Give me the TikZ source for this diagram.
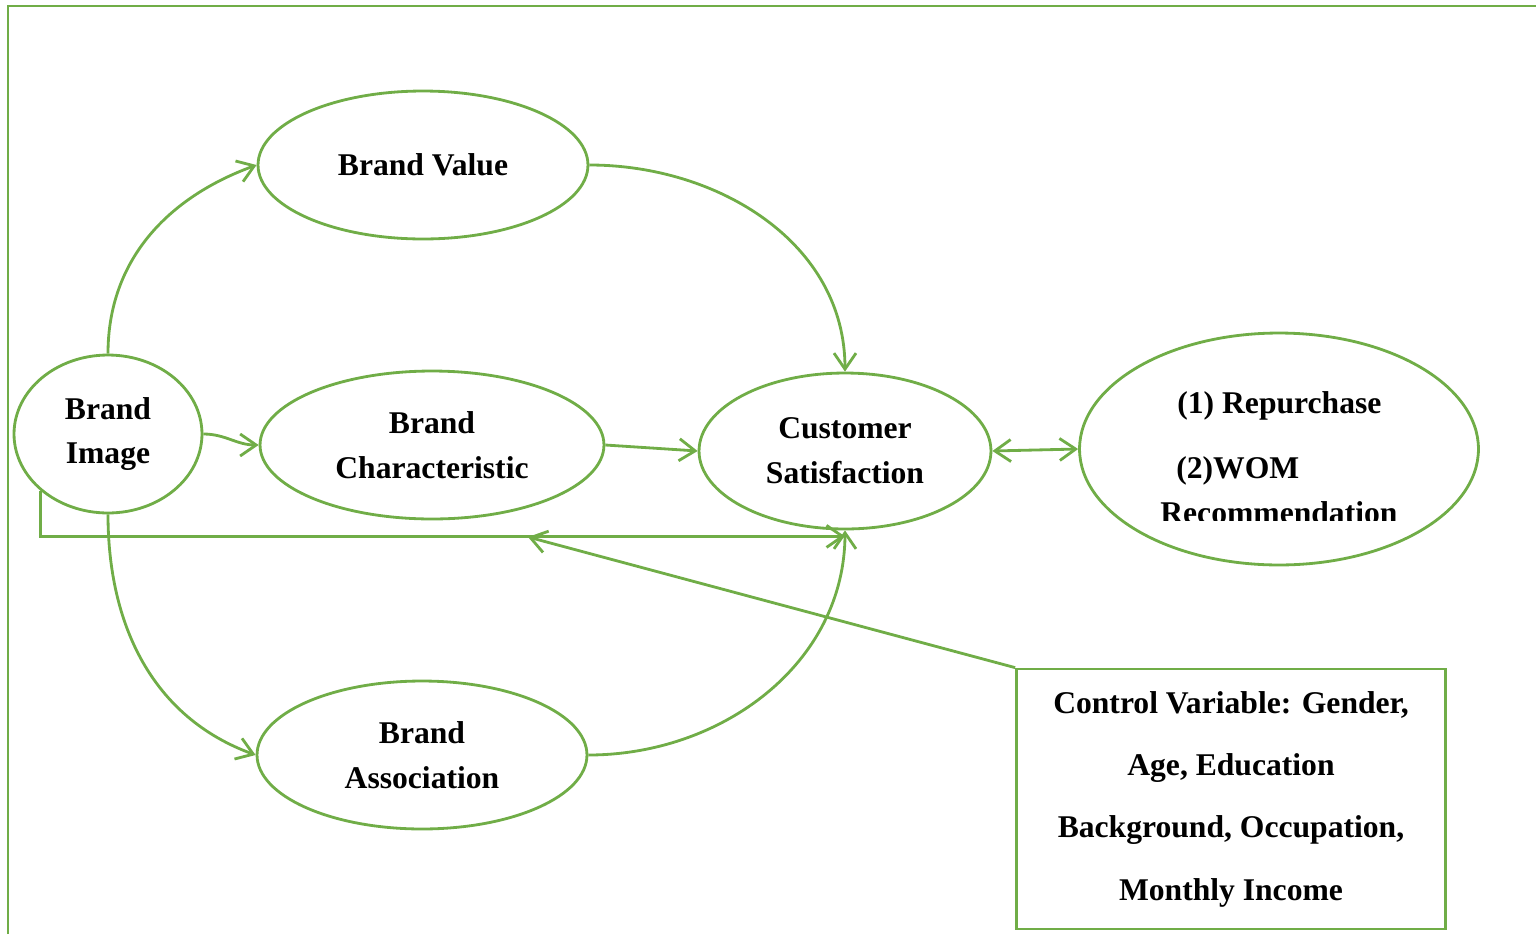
\documentclass[tikz,border=0pt]{standalone}
\usepackage{fontspec}
\setmainfont{Liberation Serif}
\usetikzlibrary{arrows.meta,shapes.geometric}
\definecolor{grn}{HTML}{70AD47}
\begin{document}
\begin{tikzpicture}[
  x=0.02cm, y=-0.02cm,
  font=\bfseries\fontsize{18}{25.5}\selectfont,
  var/.style={ellipse, draw=grn, line width=1.6pt, align=center, inner sep=0pt},
  ctrl/.style={draw=grn, line width=1.6pt, align=center, minimum width=8.58cm, minimum height=5.2cm,
               font=\bfseries\fontsize{18}{35.5}\selectfont},
  txt/.style={inner sep=0pt, anchor=base west},
  edge/.style={draw=grn, line width=1.6pt, -{Straight Barb[length=3.2mm,width=4.4mm]}},
  dedge/.style={edge, {Straight Barb[length=3.2mm,width=4.4mm]}-{Straight Barb[length=3.2mm,width=4.4mm]}}
]
\useasboundingbox (0,0) rectangle (1536,934);
\draw[grn, line width=1.6pt] (8,934) -- (8,6) -- (1536,6);

\node[var, minimum width=3.76cm, minimum height=3.16cm] (bi) at (108,434) {Brand\\Image};
\node[var, minimum width=6.6cm, minimum height=2.96cm] (bv) at (423,165) {Brand Value};
\node[var, minimum width=6.88cm, minimum height=2.96cm] (bc) at (432,445) {Brand\\Characteristic};
\node[var, minimum width=6.6cm, minimum height=2.96cm] (ba) at (422,755) {Brand\\Association};
\node[var, minimum width=5.84cm, minimum height=3.12cm] (cs) at (845,451) {Customer\\Satisfaction};
\node[var, minimum width=7.98cm, minimum height=4.64cm] (rp) at (1279,449) {};
\node[txt] (rp1) at (1177,413) {(1) Repurchase};
\node[txt] (rp2) at (1176,478) {(2)WOM};
\begin{scope}
  \clip (1090,380) rectangle (1470,520);
  \node[txt] (rp3) at (1160,523) {Recommendation};
\end{scope}
\node[ctrl] (ctl) at (1231,799) {Control Variable: Gender,\\Age, Education\\Background, Occupation,\\Monthly Income};

\draw[edge] (bi.north) to[out=90, in=200] (bv.west);
\draw[edge] (bv.east) to[out=0, in=90] (cs.north);
\draw[edge] (bi.east) to[out=0, in=180] (bc.west);
\draw[edge] (bc.east) -- (cs.west);
\draw[edge] (bi.south) to[out=-90, in=160] (ba.west);
\draw[edge] (ba.east) to[out=0, in=-90] (cs.south);
\draw[dedge] (cs.east) -- (rp.west);
\draw[edge] (bi.south west) |- ([yshift=-0.12cm]cs.south);
\coordinate (fb) at (528,537);
\draw[edge] (ctl.north west) -- (fb);
\end{tikzpicture}
\end{document}
